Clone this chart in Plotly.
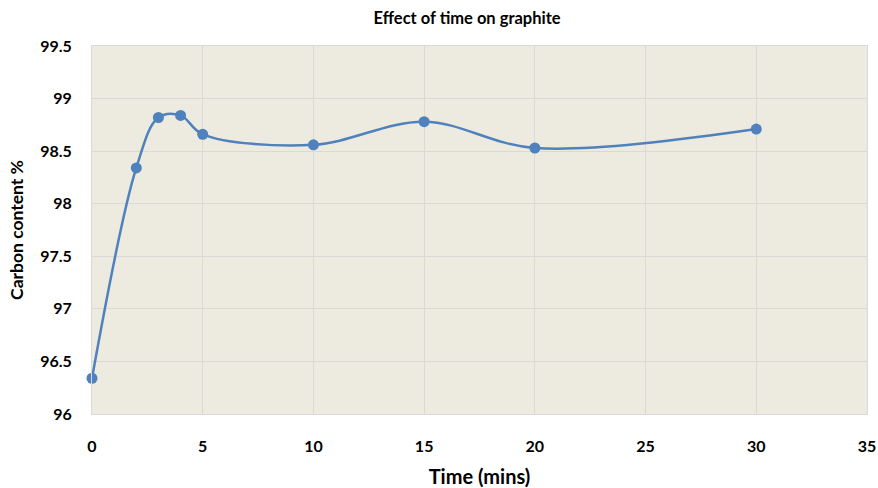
import plotly.graph_objects as go

time_mins = [0, 2, 3, 4, 5, 10, 15, 20, 30]
carbon_pct = [96.34, 98.34, 98.82, 98.84, 98.66, 98.56, 98.78, 98.53, 98.71]

x_ticks = [0, 5, 10, 15, 20, 25, 30, 35]
y_ticks = [96, 96.5, 97, 97.5, 98, 98.5, 99, 99.5]
y_labels = ["96", "96.5", "97", "97.5", "98", "98.5", "99", "99.5"]

font_family = "Lato, Open Sans, sans-serif"

fig = go.Figure()
fig.add_trace(go.Scatter(
    x=time_mins, y=carbon_pct, mode="lines+markers",
    line=dict(color="#4F81BD", width=2.5, shape="spline", smoothing=1),
    marker=dict(color="#4F81BD", size=11),
    showlegend=False, cliponaxis=False,
))

fig.update_layout(
    width=878, height=488,
    margin=dict(l=92, r=11, t=46, b=74),
    paper_bgcolor="white", plot_bgcolor="#EDEBE0",
    title=dict(text="<b>Effect of time on graphite</b>", x=0.532, xanchor="center",
               y=0.963, yanchor="middle",
               font=dict(family=font_family, size=16.5, color="#000000")),
    font=dict(family=font_family, color="#000000"),
)
fig.update_xaxes(
    range=[0, 35], tickvals=x_ticks, ticktext=[f"<b>{v}</b>" for v in x_ticks],
    tickfont=dict(size=16), showgrid=True, gridcolor="#D9D9D9", gridwidth=1,
    zeroline=False, showline=True, linecolor="#D9D9D9", linewidth=1, mirror=True,
    ticks="", ticklabelstandoff=18, automargin=False,
    title=dict(text="<b>Time (mins)</b>", font=dict(size=20), standoff=18),
)
fig.update_yaxes(
    range=[96, 99.5], tickvals=y_ticks, ticktext=[f"<b>{t}</b>" for t in y_labels],
    tickfont=dict(size=16), showgrid=True, gridcolor="#D9D9D9", gridwidth=1,
    zeroline=False, showline=True, linecolor="#D9D9D9", linewidth=1, mirror=True,
    ticks="", ticklabelstandoff=16, automargin=False,
    title=dict(text="<b>Carbon content %</b>", font=dict(size=17.5), standoff=12),
)

fig.write_html("out.html")
